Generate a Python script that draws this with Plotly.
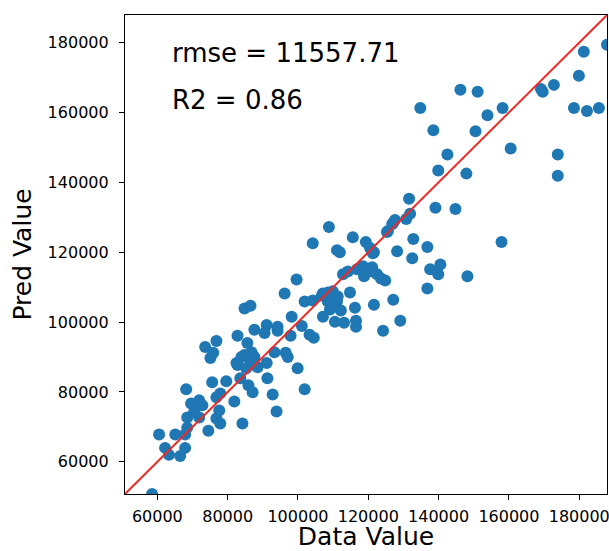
import plotly.graph_objects as go

data_value = [
    58500, 60500, 62200, 63300, 65100, 66500, 67900, 67900, 68500, 68200,
    68500, 69600, 70500, 71900, 72800, 71900, 74500, 75600, 73600, 76800,
    75100, 75900, 76800, 77900, 77600, 76800, 77900, 79600, 81900, 84200,
    82800, 85600, 82500, 83900, 84800, 86500, 82800, 85300, 85900, 87100,
    83600, 88500, 91100, 86800, 87600, 87600, 84800, 86500, 91100, 94200,
    90500, 94200, 91300, 92800, 93900, 93300, 97100, 97900, 99900, 98200,
    96200, 99600, 101900, 104200, 106800, 101100, 103300, 104500, 101900, 108800,
    115600, 104200, 111100, 111900, 119300, 120500, 121300, 125300, 126800, 127600,
    112800, 114200, 116800, 118500, 118800, 121300, 123600, 124800, 107100, 108500,
    109900, 111300, 114800, 108500, 109600, 111100, 109100, 112200, 116200, 121600,
    127100, 107100, 110500, 113100, 116500, 116500, 124200, 129100, 96500, 142500,
    139900, 147900, 131600, 139100, 144800, 131900, 130800, 127100, 125600, 132800,
    136800, 128200, 121600, 132500, 137600, 140500, 139900, 148200, 121100, 122500,
    136800, 187900, 181300, 179900, 172800, 169600, 169100, 151100, 146200, 134800,
    158200, 153900, 150500, 138500, 178500, 182200, 185600, 160500, 173900, 173900,
    157900,
]
pred_value = [
    50800, 67800, 64000, 62000, 67800, 61700, 64000, 67800, 69800, 80800,
    72700, 76700, 74400, 77600, 76200, 72700, 68900, 82800, 92900, 94600,
    89700, 91200, 78500, 79600, 74700, 72400, 71000, 83100, 77300, 71000,
    96100, 94000, 88300, 90000, 90600, 88300, 87700, 86800, 81900, 79900,
    83900, 87100, 88300, 91400, 90000, 97800, 103900, 104700, 99200, 98700,
    96900, 97500, 83900, 79300, 74400, 91400, 90000, 96100, 86800, 101500,
    108200, 112200, 105900, 106200, 107600, 98900, 96400, 95500, 80800, 127200,
    124300, 122600, 120600, 120000, 122900, 121200, 119700, 125800, 128100, 129200,
    113700, 114500, 115100, 116000, 113100, 114500, 112500, 111900, 108200, 108500,
    108800, 107300, 108500, 105900, 105000, 105900, 103600, 103300, 104100, 105000,
    106400, 101500, 100100, 99800, 100400, 98700, 97500, 100400, 91200, 148000,
    143400, 142500, 135300, 132700, 132400, 131000, 129500, 128400, 126100, 123800,
    121500, 120300, 120000, 118300, 115100, 116500, 113700, 113100, 115700, 113700,
    109600, 179400, 177400, 170500, 167900, 165900, 166700, 165900, 166500, 161300,
    161300, 159200, 154600, 154900, 161300, 160400, 161300, 149700, 148000, 141900,
    122900,
]
tick_values = [60000, 80000, 100000, 120000, 140000, 160000, 180000]
tick_labels = [str(v) for v in tick_values]
rmse_value = 11557.71
r2_value = 0.86

lo = min(min(data_value), min(pred_value))
hi = max(max(data_value), max(pred_value))

FONT = "DejaVu Sans"

fig = go.Figure()
fig.add_trace(go.Scatter(
    x=data_value, y=pred_value, mode="markers",
    marker=dict(color="#1f77b4", size=12, line=dict(width=0)),
    showlegend=False, cliponaxis=True,
))
fig.add_trace(go.Scatter(
    x=[lo, hi], y=[lo, hi], mode="lines",
    line=dict(color="#ee2a24", width=2),
    showlegend=False,
))

axis_common = dict(
    range=[lo, hi], tickvals=tick_values, ticktext=tick_labels,
    ticks="outside", ticklen=5, tickwidth=1, tickcolor="black",
    showline=True, linecolor="black", linewidth=1.2, mirror=True,
    showgrid=False, zeroline=False, automargin=False,
    ticklabeloverflow="allow",
    tickfont=dict(family=FONT, size=16, color="black"),
)

fig.update_layout(
    width=609, height=551, autosize=False,
    margin=dict(l=125, r=2, t=15, b=57),
    plot_bgcolor="white", paper_bgcolor="white",
    xaxis=dict(**axis_common,
               title=dict(text="Data Value", font=dict(family=FONT, size=25, color="black"), standoff=14),
               ticklabelstandoff=3),
    yaxis=dict(**axis_common,
               title=dict(text="Pred Value", font=dict(family=FONT, size=25, color="black"), standoff=8),
               ticklabelstandoff=7),
    annotations=[
        dict(text=f"rmse = {rmse_value}", xref="paper", yref="paper", x=0.094, y=0.921,
             xanchor="left", yanchor="middle", showarrow=False,
             font=dict(family=FONT, size=26, color="black")),
        dict(text=f"R2 = {r2_value}", xref="paper", yref="paper", x=0.094, y=0.823,
             xanchor="left", yanchor="middle", showarrow=False,
             font=dict(family=FONT, size=26, color="black")),
    ],
)

# Remove the default page margin so the figure fills the window exactly.
fig.write_html(
    "out.html",
    config={"displayModeBar": False},
    post_script="document.body.style.margin='0';document.body.style.overflow='hidden';",
)
